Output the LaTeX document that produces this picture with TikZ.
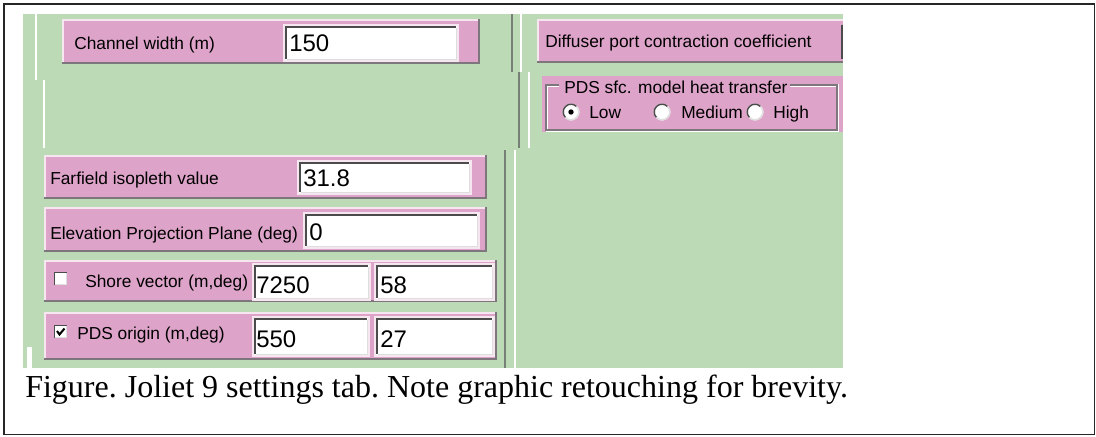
\documentclass[tikz,border=0pt]{standalone}
\usepackage{fontspec}
\newfontfamily\uifont{Liberation Sans}
\newfontfamily\capfont{Liberation Serif}
\definecolor{bgG}{RGB}{188,218,182}
\definecolor{pnk}{RGB}{221,163,201}
\definecolor{hil}{RGB}{245,230,240}
\definecolor{shd}{RGB}{125,118,125}
\definecolor{sepD}{RGB}{118,128,118}
\definecolor{inD}{RGB}{75,75,75}
\definecolor{inL}{RGB}{222,222,222}
\tikzset{
  lbl/.style={anchor=base west, inner sep=0pt, text=black, font=\uifont\fontsize{13pt}{15pt}\selectfont},
  val/.style={anchor=base west, inner sep=0pt, text=black, font=\uifont\fontsize{18pt}{20pt}\selectfont},
  captxt/.style={anchor=base west, inner sep=0pt, text=black, font=\capfont\fontsize{24pt}{28pt}\selectfont\frenchspacing},
  sepdark/.style={sepD, line width=1.1pt},
  seplight/.style={white, line width=1.1pt},
}
\newcommand\uiPanel[4]{%
  \fill[pnk] (#1,#2) rectangle (#3,#4);
  \draw[hil,line width=1.1pt] (#1+0.8,#4) -- (#1+0.8,#2+0.8) -- (#3,#2+0.8);
  \draw[shd,line width=1.1pt] (#1,#4-0.8) -- (#3-0.8,#4-0.8) -- (#3-0.8,#2);
}
\newcommand\uiInput[4]{%
  \draw[hil,line width=0.8pt] (#1-1,#2-1) rectangle (#3+1,#4+1);
  \fill[white] (#1,#2) rectangle (#3,#4);
  \draw[inD,line width=1.5pt] (#1+1,#4-1) -- (#1+1,#2+1) -- (#3-1,#2+1);
  \draw[inL,line width=1pt] (#1+1.5,#4-0.7) -- (#3-0.7,#4-0.7) -- (#3-0.7,#2+1.5);
}
\newcommand\uiRadio[3]{%
  \fill[white] (#1,#2) circle[radius=8.5];
  \draw[inD,line width=1.1pt] (#1,#2) ++(135:7.8) arc[start angle=135,end angle=315,radius=7.8];
  \draw[inL,line width=1.1pt] (#1,#2) ++(315:7.8) arc[start angle=315,end angle=495,radius=7.8];
  \ifnum#3=1 \fill[black] (#1,#2) circle[radius=2.7];\fi
}
\newcommand\uiCheck[3]{%
  \fill[white] (#1,#2) rectangle (#1+13,#2+13);
  \draw[inD,line width=1.1pt] (#1+0.7,#2+13) -- (#1+0.7,#2+0.7) -- (#1+13,#2+0.7);
  \draw[inL,line width=0.8pt] (#1+0.7,#2+12.5) -- (#1+12.5,#2+12.5) -- (#1+12.5,#2+0.7);
  \ifnum#3=1 \draw[black,line width=1.5pt] (#1+3,#2+6) -- (#1+5.5,#2+9.5) -- (#1+10.5,#2+3.5);\fi
}
\begin{document}
\begin{tikzpicture}[x=0.75pt,y=-0.75pt]
\useasboundingbox (0,0) rectangle (1096,436);
\fill[white] (0,0) rectangle (1096,436);
% outer frame
\draw[line width=1.3pt, black!85] (4,4) rectangle (1094.5,434.5);
% green dialog background
\fill[bgG] (23,14) rectangle (843,368);
% separators
\draw[seplight] (36,14) -- (36,80);
\draw[seplight] (44,80) -- (44,148);
\draw[sepdark] (512,14) -- (512,72);
\draw[seplight] (521,14) -- (521,72);
\draw[sepdark] (519,72) -- (519,148);
\draw[seplight] (529,72) -- (529,148);
\draw[sepdark] (505,150) -- (505,368);
\draw[seplight] (515,150) -- (515,368);
\fill[white] (27,347) rectangle (32,368);

% Channel width
\uiPanel{62}{19}{480}{64}
\uiInput{285}{26}{457}{60}
\node[lbl] (chw) at (74,49) {Channel width (m)};
\node[val] (chwv) at (289,51) {150};

% Diffuser
\fill[pnk] (537,19) rectangle (843,63);
\draw[hil,line width=1.1pt] (537.8,63) -- (537.8,19.8) -- (843,19.8);
\draw[shd,line width=1.1pt] (537,62.2) -- (843,62.2);
\draw[inD,line width=1.5pt] (841.5,25) -- (841.5,59);
\node[lbl] (dif) at (545,47) {Diffuser port contraction coefficient};

% Group box
\fill[pnk] (542,76) rectangle (843,132);
\draw[shd,line width=0.8pt] (559,85) -- (546,85) -- (546,130) -- (837,130) -- (837,85) -- (790,85);
\draw[white,line width=0.8pt] (559,86.2) -- (547.2,86.2) -- (547.2,128.8) (546,131.2) -- (838.2,131.2) -- (838.2,84) (790,86.2) -- (835.8,86.2);
\node[lbl] (grp) at (564,93) {PDS sfc. model heat transfer};
\uiRadio{571}{112}{1}
\uiRadio{662}{112}{0}
\uiRadio{755}{112}{0}
\node[lbl] (low) at (589,118) {Low};
\node[lbl] (med) at (681,118) {Medium};
\node[lbl] (hig) at (773,118) {High};

% Farfield
\uiPanel{44}{155}{487}{199}
\uiInput{299}{162}{470}{193}
\node[lbl] (far) at (50,184) {Farfield isopleth value};
\node[val] (farv) at (303,186) {31.8};

% Elevation
\uiPanel{44}{207}{487}{252}
\uiInput{305}{214}{478}{247}
\node[lbl] (ele) at (50,239) {Elevation Projection Plane (deg)};
\node[val] (elev) at (309,240) {0};

% Shore vector
\uiPanel{44}{260}{497}{302}
\uiInput{254}{265}{369}{299}
\uiInput{376}{265}{493}{299}
\uiCheck{54}{272}{0}
\node[lbl] (sho) at (85,287) {Shore vector (m,deg)};
\node[val] (shoa) at (256,293) {7250};
\node[val] (shob) at (380,293) {58};

% PDS origin
\uiPanel{44}{312}{497}{360}
\uiInput{254}{318}{368}{355}
\uiInput{376}{318}{493}{355}
\uiCheck{54}{325}{1}
\node[lbl] (pds) at (77,339) {PDS origin (m,deg)};
\node[val] (pdsa) at (256,347) {550};
\node[val] (pdsb) at (380,347) {27};

% caption
\node[captxt] (caption) at (25,397) {Figure. Joliet 9 settings tab. Note graphic retouching for brevity.};
\end{tikzpicture}
\end{document}
